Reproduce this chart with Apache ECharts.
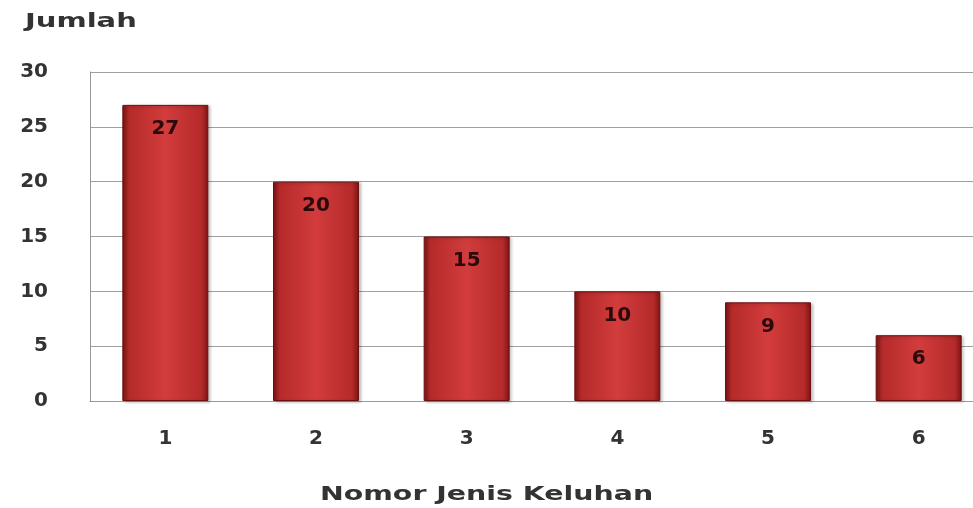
<!DOCTYPE html>
<html>
<head>
<meta charset="utf-8">
<script src="https://cdn.jsdelivr.net/npm/echarts@6/dist/echarts.min.js"></script>
<style>
  html, body { margin: 0; padding: 0; background: #fff; }
  #chart { width: 973px; height: 508px; }
</style>
</head>
<body>
<div id="chart"></div>
<script>
const categories = ["1", "2", "3", "4", "5", "6"];
const jumlah = [27, 20, 15, 10, 9, 6];
const yTicks = [0, 5, 10, 15, 20, 25, 30];

const chart = echarts.init(document.getElementById("chart"));

// bar fill: dark edges, brighter middle (like the excel bevel)
const barFill = new echarts.graphic.LinearGradient(0, 0, 1, 0, [
  { offset: 0, color: "#7e1414" },
  { offset: 0.08, color: "#b52a2a" },
  { offset: 0.5, color: "#d23c3c" },
  { offset: 0.92, color: "#b52a2a" },
  { offset: 1, color: "#7e1414" },
]);

chart.setOption({
  animation: false,
  graphic: [
    {
      type: "text",
      x: 25,
      y: 12,
      scaleX: 1.45,
      style: {
        text: "Jumlah",
        font: "bold 20px 'DejaVu Sans'",
        fill: "#333",
      },
    },
    {
      type: "text",
      x: 320,
      y: 485,
      scaleX: 1.42,
      style: {
        text: "Nomor Jenis Keluhan",
        font: "bold 20px 'DejaVu Sans'",
        fill: "#333",
      },
    },
  ],
  // the picture is cut on the right, so the plot runs past the page edge
  grid: { left: 90, width: 904, top: 72, bottom: 107, outerBoundsMode: "none" },
  xAxis: {
    type: "category",
    data: categories,
    axisLine: { lineStyle: { color: "#999" } },
    axisTick: { show: false },
    axisLabel: {
      margin: 28,
      fontFamily: "DejaVu Sans",
      fontWeight: "bold",
      fontSize: 20,
      color: "#333",
    },
  },
  yAxis: {
    type: "value",
    min: yTicks[0],
    max: yTicks[yTicks.length - 1],
    interval: 5,
    axisLine: { show: true, lineStyle: { color: "#999" } },
    axisTick: { show: false },
    splitLine: { lineStyle: { color: "#a0a0a0", width: 1 } },
    axisLabel: {
      margin: 42,
      fontFamily: "DejaVu Sans",
      fontWeight: "bold",
      fontSize: 20,
      color: "#333",
    },
  },
  series: [
    {
      type: "bar",
      data: jumlah,
      barWidth: 86,
      itemStyle: {
        color: barFill,
        borderColor: "#6a1010",
        borderWidth: 1,
        shadowColor: "rgba(0,0,0,0.25)",
        shadowBlur: 3,
        shadowOffsetX: 2,
        shadowOffsetY: 1,
      },
      label: {
        show: true,
        position: "insideTop",
        distance: 14,
        fontFamily: "DejaVu Sans",
        fontWeight: "bold",
        fontSize: 20,
        color: "#2a0a0a",
      },
    },
  ],
});
</script>
</body>
</html>
